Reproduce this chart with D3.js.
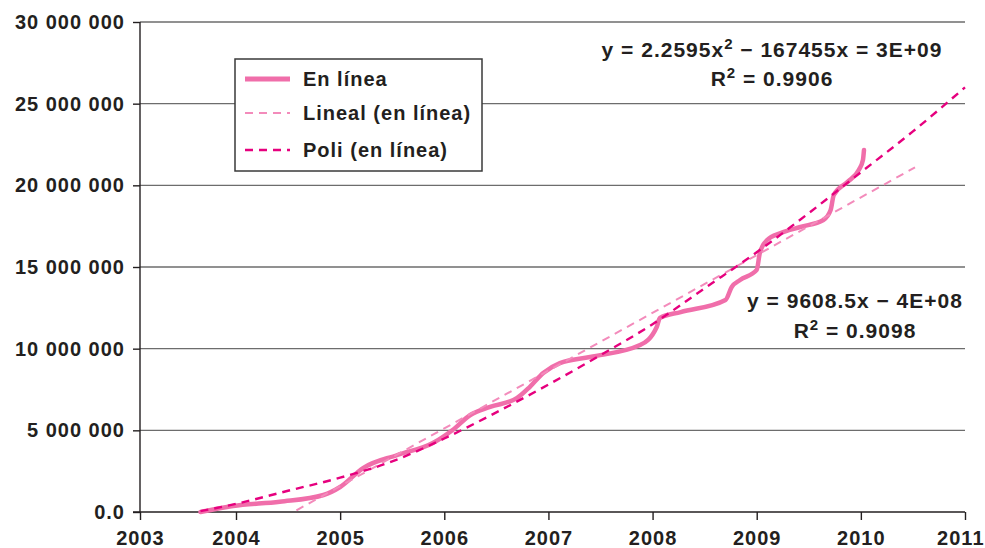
<!DOCTYPE html>
<html lang="es">
<head>
<meta charset="UTF-8">
<script src="https://d3js.org/d3.v7.min.js"></script>
<style>
  html, body { margin: 0; padding: 0; background: #fff; }
  svg text { font-family: "Liberation Sans", Arial, Helvetica, sans-serif; font-weight: bold; fill: #231f20; letter-spacing: 1px; }
</style>
</head>
<body>
<svg id="chart" width="985" height="548"></svg>
<script>
// valores (anio decimal, millones)
var enLinea = [
  [2003.63, 0.0], [2003.97, 0.37], [2004.42, 0.63], [2004.84, 1.04], [2005.00, 1.53],
  [2005.22, 2.69], [2005.55, 3.49], [2005.89, 4.22], [2006.08, 5.02], [2006.25, 5.94],
  [2006.44, 6.43], [2006.70, 6.98], [2006.82, 7.65], [2006.95, 8.51], [2007.11, 9.12],
  [2007.40, 9.49], [2007.88, 10.22], [2008.04, 11.33], [2008.07, 11.88], [2008.27, 12.24],
  [2008.70, 12.98], [2008.76, 13.78], [2008.84, 14.20], [2009.00, 14.82], [2009.03, 15.86],
  [2009.10, 16.65], [2009.23, 17.08], [2009.42, 17.45], [2009.64, 17.88], [2009.71, 18.49],
  [2009.74, 19.41], [2009.87, 20.20], [2009.98, 20.94], [2010.02, 21.55], [2010.03, 22.16]
];
var lineal = [[2004.58, 0.1], [2010.52, 21.1]];
var poli = [
  [2003.63, 0.05], [2004.0, 0.5], [2004.5, 1.3], [2005.0, 2.1], [2005.5, 3.1], [2006.0, 4.5],
  [2006.5, 6.1], [2007.0, 7.8], [2007.5, 9.6], [2008.0, 11.5], [2008.5, 13.7], [2009.0, 15.9],
  [2009.5, 18.3], [2010.0, 20.8], [2010.5, 23.3], [2011.0, 26.0]
];
var xTicks = [2003, 2004, 2005, 2006, 2007, 2008, 2009, 2010, 2011];
var yTicks = [0, 5e6, 10e6, 15e6, 20e6, 25e6, 30e6];
var yTickLabels = ["0.0", "5 000 000", "10 000 000", "15 000 000", "20 000 000", "25 000 000", "30 000 000"];
var legendNames = ["En línea", "Lineal (en línea)", "Poli (en línea)"];

var svg = d3.select("#chart");
var pLeft = 140, pRight = 965, pTop = 22, pBottom = 512;

var x = d3.scaleLinear().domain([2003, 2004, 2011]).range([pLeft, 236, pRight]);
var y = d3.scaleLinear().domain([0, 30e6]).range([pBottom, pTop]);

// lineas de cuadricula
svg.append("g").selectAll("line")
  .data(yTicks.filter(function(d) { return d > 0; }))
  .enter().append("line")
  .attr("x1", pLeft).attr("x2", pRight)
  .attr("y1", function(d) { return y(d); }).attr("y2", function(d) { return y(d); })
  .attr("stroke", "#6d6d6d").attr("stroke-width", 1.4);

// eje y
var yAxis = svg.append("g").attr("transform", "translate(" + pLeft + ",0)")
  .call(d3.axisLeft(y).tickValues(yTicks).tickSize(7).tickPadding(8)
    .tickFormat(function(d, i) { return yTickLabels[i]; }));
yAxis.selectAll("path, line").attr("stroke", "#231f20").attr("stroke-width", 1.4);
yAxis.select(".domain").attr("d", "M0," + pBottom + "V" + pTop);
yAxis.selectAll("text").style("font-size", "20px").attr("fill", "#231f20");

// eje x
var xAxis = svg.append("g").attr("transform", "translate(0," + pBottom + ")")
  .call(d3.axisBottom(x).tickValues(xTicks).tickSize(8).tickPadding(11).tickFormat(d3.format("d")));
xAxis.selectAll("path, line").attr("stroke", "#231f20").attr("stroke-width", 1.4);
xAxis.select(".domain").attr("d", "M" + (pLeft - 7) + ",0H" + pRight);
xAxis.selectAll("text").style("font-size", "20px").attr("fill", "#231f20");
// la ultima etiqueta queda pegada al borde
xAxis.selectAll(".tick").filter(function(d) { return d === 2011; })
  .select("text").attr("text-anchor", "end").attr("x", 984 - pRight);

var line = d3.line()
  .x(function(d) { return x(d[0]); })
  .y(function(d) { return y(d[1] * 1e6); });

svg.append("path").datum(enLinea)
  .attr("d", line.curve(d3.curveMonotoneX))
  .attr("fill", "none").attr("stroke", "#f06eaa").attr("stroke-width", 4.5)
  .attr("stroke-linejoin", "round").attr("stroke-linecap", "round");

svg.append("path").datum(lineal)
  .attr("d", line.curve(d3.curveLinear))
  .attr("fill", "none").attr("stroke", "#f38bbb").attr("stroke-width", 2)
  .attr("stroke-dasharray", "8,6");

svg.append("path").datum(poli)
  .attr("d", line.curve(d3.curveMonotoneX))
  .attr("fill", "none").attr("stroke", "#e6007e").attr("stroke-width", 2.4)
  .attr("stroke-dasharray", "8,6");

// leyenda
var legend = svg.append("g");
legend.append("rect").attr("x", 235).attr("y", 59).attr("width", 247).attr("height", 112)
  .attr("fill", "#fff").attr("stroke", "#3a3a3a").attr("stroke-width", 1.5);
var legendY = [79, 113, 150];
var legendStyle = [
  { c: "#f06eaa", w: 5, dash: null },
  { c: "#f38bbb", w: 2, dash: "8,6" },
  { c: "#e6007e", w: 2.4, dash: "8,6" }
];
legendNames.forEach(function(name, i) {
  legend.append("line").attr("x1", 245).attr("x2", 290)
    .attr("y1", legendY[i]).attr("y2", legendY[i])
    .attr("stroke", legendStyle[i].c).attr("stroke-width", legendStyle[i].w)
    .attr("stroke-dasharray", legendStyle[i].dash);
  legend.append("text").attr("x", 303).attr("y", legendY[i]).attr("dy", "0.36em")
    .style("font-size", "20px").text(name);
});

// ecuaciones de tendencia
function eq(cx, cy, parts) {
  var t = svg.append("text").attr("x", cx).attr("y", cy).attr("text-anchor", "middle")
    .style("font-size", "21px");
  parts.forEach(function(p) {
    var s = t.append("tspan").text(p[0]);
    if (p[1]) s.attr("baseline-shift", "super").style("font-size", "15px");
  });
}
eq(772, 57, [["y = 2.2595x"], ["2", true], [" − 167455x = 3E+09"]]);
eq(772, 86, [["R"], ["2", true], [" = 0.9906"]]);
eq(855, 308, [["y = 9608.5x − 4E+08"]]);
eq(855, 338, [["R"], ["2", true], [" = 0.9098"]]);
</script>
</body>
</html>
